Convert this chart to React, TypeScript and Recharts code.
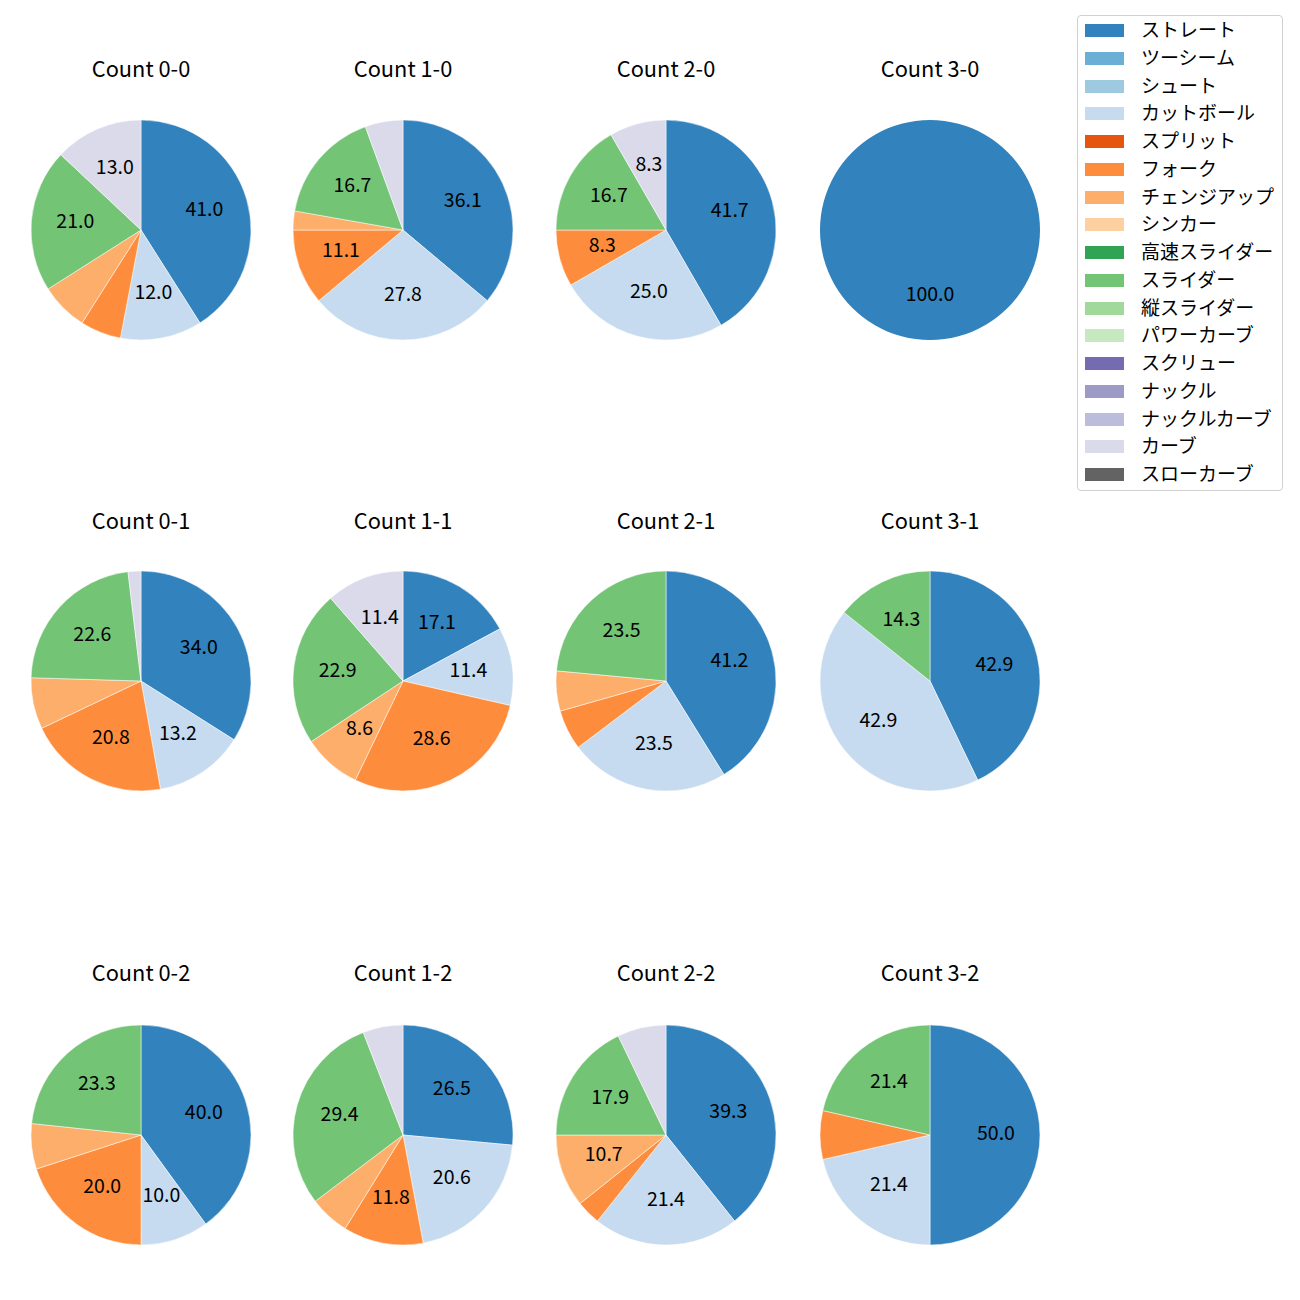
import React from 'react'
import { PieChart, Pie, Cell } from 'recharts'

// pitch types in legend order, with tab20c colours
const pitchTypes = [
  'ストレート', 'ツーシーム', 'シュート', 'カットボール', 'スプリット', 'フォーク',
  'チェンジアップ', 'シンカー', '高速スライダー', 'スライダー', '縦スライダー',
  'パワーカーブ', 'スクリュー', 'ナックル', 'ナックルカーブ', 'カーブ', 'スローカーブ',
]
const pitchColors = [
  '#3182bd', '#6baed6', '#9ecae1', '#c6dbef', '#e6550d', '#fd8d3c',
  '#fdae6b', '#fdd0a2', '#31a354', '#74c476', '#a1d99b',
  '#c7e9c0', '#756bb1', '#9e9ac8', '#bcbddc', '#dadaeb', '#636363',
]

// ball-strike counts, in grid order (row by row)
const counts = ['0-0', '1-0', '2-0', '3-0', '0-1', '1-1', '2-1', '3-1', '0-2', '1-2', '2-2', '3-2']

// number of pitches thrown per count
const straight = [41, 13, 5, 1, 18, 6, 7, 3, 12, 9, 11, 7]
const cutter = [12, 10, 3, 0, 7, 4, 4, 3, 3, 7, 6, 3]
const fork = [6, 4, 1, 0, 11, 10, 1, 0, 6, 4, 1, 1]
const changeup = [7, 1, 0, 0, 4, 3, 1, 0, 2, 2, 3, 0]
const slider = [21, 6, 2, 0, 12, 8, 4, 1, 7, 10, 5, 3]
const curve = [13, 2, 1, 0, 1, 4, 0, 0, 0, 2, 2, 0]

const seriesByPitch: Record<string, number[]> = {
  'ストレート': straight,
  'カットボール': cutter,
  'フォーク': fork,
  'チェンジアップ': changeup,
  'スライダー': slider,
  'カーブ': curve,
}

const FONT = '"Noto Sans CJK JP", "Noto Sans", sans-serif'
const colX = [141, 403, 666, 930]
const rowY = [230, 681, 1135]
const titleY = [68, 520, 972]
const R = 110
const SIZE = 260

const RAD = Math.PI / 180

const makeLabel = (total: number) => (props: any) => {
  const { cx, cy, midAngle, outerRadius, value } = props
  const pct = (value / total) * 100
  if (pct < 8) return null
  const r = outerRadius * 0.6
  const x = cx + r * Math.cos(-midAngle * RAD)
  const y = cy + r * Math.sin(-midAngle * RAD)
  // nudge up a little: "central" sits low for this font
  return (
    <text x={x} y={y - 4} textAnchor="middle" dominantBaseline="central"
      fill="#000" fontSize={19.5} fontFamily={FONT}>
      {pct.toFixed(1)}
    </text>
  )
}

const CountPie = ({ idx }: { idx: number }) => {
  const data = pitchTypes
    .map((name, i) => ({ name, color: pitchColors[i], value: seriesByPitch[name] ? seriesByPitch[name][idx] : 0 }))
    .filter((d) => d.value > 0)
  const total = data.reduce((s, d) => s + d.value, 0)
  const cx = colX[idx % 4]
  const cy = rowY[Math.floor(idx / 4)]
  const ty = titleY[Math.floor(idx / 4)]
  return (
    <>
      <div style={{
        position: 'absolute', left: cx - 130, top: ty - 15, width: 260, height: 30,
        lineHeight: '30px', textAlign: 'center', fontSize: 21.8, fontFamily: FONT, color: '#000',
      }}>
        Count {counts[idx]}
      </div>
      <div style={{ position: 'absolute', left: cx - SIZE / 2, top: cy - SIZE / 2 }}>
        <PieChart width={SIZE} height={SIZE} margin={{ top: 0, right: 0, bottom: 0, left: 0 }}>
          <Pie data={data} dataKey="value" nameKey="name" cx={SIZE / 2} cy={SIZE / 2}
            outerRadius={R} startAngle={90} endAngle={-270} labelLine={false}
            label={makeLabel(total)} stroke={data.length > 1 ? '#fff' : 'none'} strokeWidth={0.5}
            isAnimationActive={false}>
            {data.map((d) => <Cell key={d.name} fill={d.color} />)}
          </Pie>
        </PieChart>
      </div>
    </>
  )
}

const LegendBox = () => (
  <div style={{
    position: 'absolute', left: 1077, top: 15, width: 204, height: 474,
    border: '1px solid #d0d0d0', borderRadius: 4, background: '#fff', fontFamily: FONT,
  }}>
    {pitchTypes.map((name, i) => (
      <div key={name} style={{ position: 'absolute', left: 0, top: i * 27.75, height: 28, width: 204 }}>
        <div style={{ position: 'absolute', left: 7, top: 8, width: 39, height: 13, background: pitchColors[i] }} />
        <div style={{ position: 'absolute', left: 63, top: -1, lineHeight: '28px', fontSize: 19, color: '#000', whiteSpace: 'nowrap' }}>
          {name}
        </div>
      </div>
    ))}
  </div>
)

export default function App() {
  return (
    <div style={{ position: 'absolute', left: 0, top: 0, width: 1300, height: 1300, background: '#fff' }}>
      {counts.map((c, i) => <CountPie key={c} idx={i} />)}
      <LegendBox />
    </div>
  )
}
